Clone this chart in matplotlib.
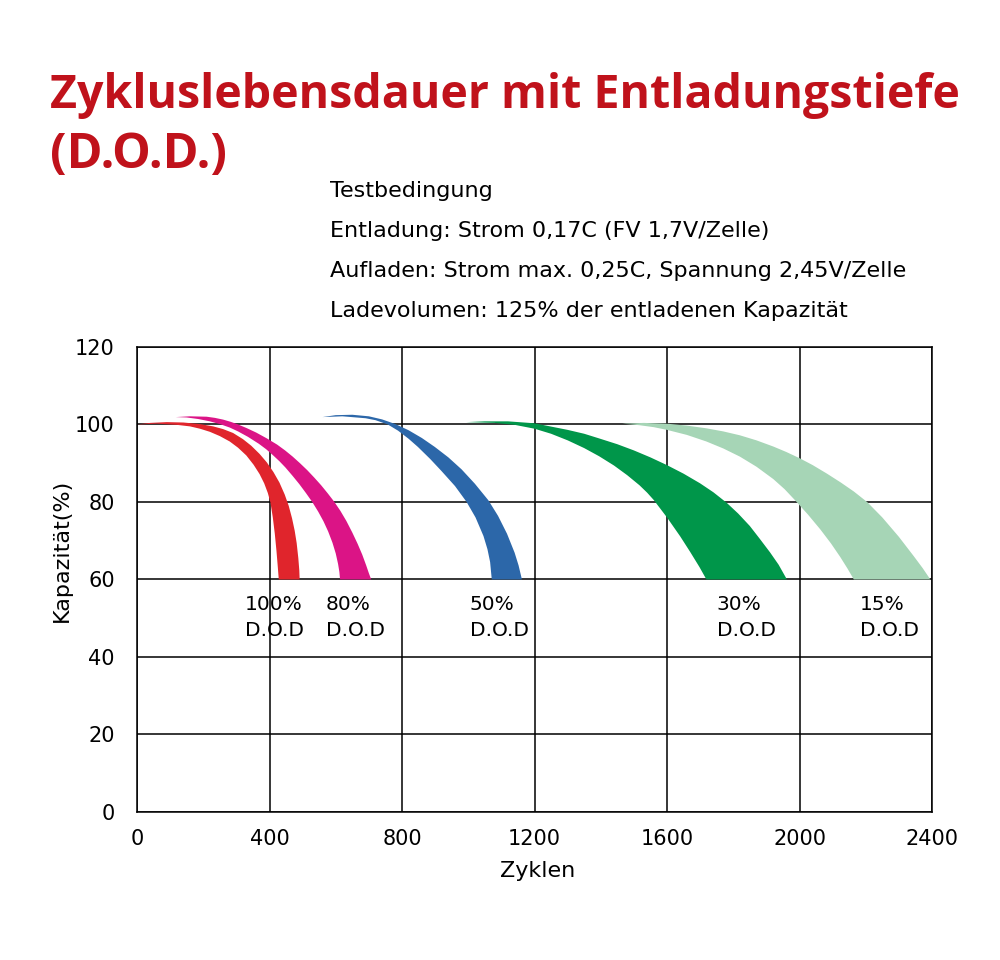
import numpy as np
import matplotlib
matplotlib.use("Agg")
import matplotlib.pyplot as plt

# Zyklen / Kapazitaet (%) - obere (aeussere) und untere (innere) Kante jedes Bandes
red_outer_x = [0, 40, 90, 140, 190, 230, 260, 290, 320, 345, 370, 392, 412, 430, 446, 458, 468,
               476, 482, 487, 490, 491]
red_outer_y = [100, 100.4, 100.6, 100.5, 100.1, 99.5, 98.8, 97.8, 96.2, 94.5, 92.4, 90.2, 87.7,
               85.0, 81.9, 79.0, 75.8, 72.6, 69.4, 65.5, 62.3, 60]
red_inner_x = [0, 60, 120, 160, 190, 220, 250, 280, 305, 330, 352, 370, 384, 395, 403, 410, 416,
               421, 425, 428]
red_inner_y = [100, 100.2, 99.9, 99.5, 98.9, 98.1, 97.0, 95.6, 94.0, 92.0, 89.6, 87.2, 84.8, 82.3,
               79.8, 76.0, 71.8, 67.4, 63.3, 60]

pink_outer_x = [117, 160, 210, 235, 260, 282, 302, 330, 360, 392, 423, 447, 470, 492, 514, 535,
                556, 576, 595, 614, 632, 650, 666, 680, 692, 700, 707]
pink_outer_y = [101.9, 102.1, 102.0, 101.7, 101.25, 100.7, 100.1, 99.1, 97.9, 96.4, 94.8, 93.3,
                91.7, 90.0, 88.2, 86.3, 84.3, 82.2, 80.1, 77.7, 75.1, 72.1, 69.2, 66.4, 63.6,
                61.6, 60]
pink_inner_x = [117, 150, 185, 220, 250, 280, 305, 335, 368, 390, 410, 430, 448, 470, 490, 510,
                529, 547, 563, 577, 590, 600, 607, 611, 613]
pink_inner_y = [101.9, 101.8, 101.4, 100.8, 100.1, 99.2, 98.2, 96.8, 95.0, 93.6, 92.1, 90.5, 88.9,
                86.7, 84.6, 82.3, 80.0, 77.5, 75.0, 72.4, 69.5, 66.7, 64.0, 61.9, 60]

blue_outer_x = [560, 600, 650, 700, 740, 780, 820, 860, 899, 940, 980, 1020, 1061, 1090, 1117,
                1140, 1152, 1162]
blue_outer_y = [101.9, 102.4, 102.5, 102.1, 101.3, 100.1, 98.5, 96.5, 94.2, 91.5, 88.4, 84.7,
                80.4, 76.4, 71.8, 66.9, 63.6, 60]
blue_inner_x = [560, 620, 690, 720, 757, 788, 820, 848, 885, 919, 960, 995, 1022, 1046, 1058,
                1066, 1071]
blue_inner_y = [101.9, 102.1, 101.6, 101.1, 100.0, 98.4, 96.3, 94.2, 91.1, 88.0, 84.1, 80.0, 76.0,
                71.2, 67.8, 64.5, 60]

green_outer_x = [994, 1050, 1120, 1200, 1300, 1350, 1395, 1450, 1500, 1550, 1600, 1650, 1700,
                 1740, 1780, 1815, 1850, 1880, 1911, 1937, 1962]
green_outer_y = [100.6, 100.8, 100.8, 100.3, 98.6, 97.6, 96.4, 94.9, 93.3, 91.5, 89.5, 87.3, 84.8,
                 82.5, 79.8, 77.0, 73.8, 70.5, 67.0, 63.8, 60]
green_inner_x = [994, 1080, 1140, 1200, 1250, 1300, 1350, 1395, 1440, 1480, 1517, 1540, 1560,
                 1600, 1640, 1670, 1698, 1719]
green_inner_y = [100.6, 100.4, 99.9, 98.9, 97.6, 95.9, 93.9, 91.8, 89.4, 86.9, 84.3, 82.4, 80.5,
                 76.0, 71.1, 67.1, 63.2, 60]

lgreen_outer_x = [1465, 1530, 1600, 1660, 1719, 1770, 1820, 1870, 1921, 1960, 2000, 2040, 2083,
                  2125, 2164, 2204, 2250, 2300, 2345, 2372, 2395]
lgreen_outer_y = [100.2, 100.4, 100.2, 99.7, 99.0, 98.2, 97.2, 95.9, 94.3, 92.9, 91.3, 89.5, 87.3,
                  85.0, 82.7, 80.0, 76.0, 71.0, 66.0, 62.9, 60]
lgreen_inner_x = [1465, 1517, 1560, 1600, 1660, 1719, 1770, 1820, 1870, 1921, 1955, 1987, 2025,
                  2063, 2095, 2123, 2145, 2164]
lgreen_inner_y = [100.2, 99.8, 99.3, 98.6, 97.3, 95.6, 93.8, 91.7, 89.1, 85.9, 83.3, 80.4, 76.8,
                  72.9, 69.3, 65.8, 62.8, 60]

bands = [
    (red_outer_x, red_outer_y, red_inner_x, red_inner_y, '#E0252C'),
    (pink_outer_x, pink_outer_y, pink_inner_x, pink_inner_y, '#DB1486'),
    (blue_outer_x, blue_outer_y, blue_inner_x, blue_inner_y, '#2C67A9'),
    (green_outer_x, green_outer_y, green_inner_x, green_inner_y, '#00964A'),
    (lgreen_outer_x, lgreen_outer_y, lgreen_inner_x, lgreen_inner_y, '#A6D5B6'),
]

# Beschriftung der Baender: (Text, Zyklen-Position)
dod_labels = ['100%\nD.O.D', '80%\nD.O.D', '50%\nD.O.D', '30%\nD.O.D', '15%\nD.O.D']
dod_label_x = [325, 570, 1005, 1750, 2182]

x_ticks = [0, 400, 800, 1200, 1600, 2000, 2400]
y_ticks = [0, 20, 40, 60, 80, 100, 120]

conditions = [
    'Testbedingung',
    'Entladung: Strom 0,17C (FV 1,7V/Zelle)',
    'Aufladen: Strom max. 0,25C, Spannung 2,45V/Zelle',
    'Ladevolumen: 125% der entladenen Kapazität',
]

plt.rcParams['font.family'] = ['DejaVu Sans']

fig = plt.figure(figsize=(10, 9.6), dpi=100)
ax = fig.add_axes([0.137, 0.1542, 0.795, 0.4844])

for ox, oy, ix, iy, col in bands:
    ax.fill(np.concatenate([ox, ix[::-1]]), np.concatenate([oy, iy[::-1]]),
            color=col, lw=0, zorder=2)

for txt, xp in zip(dod_labels, dod_label_x):
    ax.text(xp, 56.0, txt, ha='left', va='top', fontsize=14.5, linespacing=1.5, zorder=3)

ax.set_xlim(0, 2400)
ax.set_ylim(0, 120)
ax.set_xticks(x_ticks)
ax.set_yticks(y_ticks)
ax.grid(True, color='black', lw=1.1)
ax.set_axisbelow(True)
for sp in ax.spines.values():
    sp.set_linewidth(1.1)
ax.tick_params(length=0, labelsize=15)
ax.tick_params(axis='y', pad=16)
ax.tick_params(axis='x', pad=12)

ax.set_xlabel('Zyklen', fontsize=16)
ax.xaxis.set_label_coords(0.504, -0.105)
ax.set_ylabel('Kapazität(%)', fontsize=16)
ax.yaxis.set_label_coords(-0.082, 0.563)

title_color = '#C0121B'
title_font = ['Open Sans', 'DejaVu Sans']
fig.text(0.05, 1 - 108 / 960, 'Zykluslebensdauer mit Entladungstiefe', color=title_color,
         fontsize=33.5, fontweight='bold', family=title_font, va='baseline')
fig.text(0.05, 1 - 168 / 960, '(D.O.D.)', color=title_color,
         fontsize=35, fontweight='bold', family=title_font, va='baseline')

for i, line in enumerate(conditions):
    fig.text(0.33, 1 - (197 + i * 40) / 960, line, fontsize=16, va='baseline')

fig.savefig('out.png', dpi=100)
